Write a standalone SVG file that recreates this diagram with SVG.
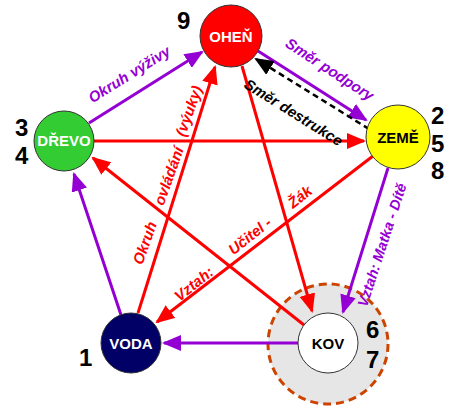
<svg xmlns="http://www.w3.org/2000/svg" width="461" height="408" viewBox="0 0 461 408">
<style>
.node circle{stroke:#333;stroke-width:1}
.node text{font-family:"Liberation Sans",Arial,sans-serif;font-weight:bold;font-size:15px;text-anchor:middle}
.num{font-family:"Liberation Sans",Arial,sans-serif;font-weight:bold;font-size:24px;fill:#000}
.lbl{font-family:"Liberation Sans",Arial,sans-serif;font-weight:bold;font-style:italic;font-size:15px;text-anchor:middle}
.red{stroke:#ff0000;stroke-width:3;fill:none;marker-end:url(#ar)}
.pur{stroke:#9400d3;stroke-width:3;fill:none;marker-end:url(#ap)}
.blk{stroke:#000;stroke-width:2.5;stroke-dasharray:6 4;fill:none;marker-end:url(#ak)}
</style>
<defs>
<marker id="ar" markerUnits="userSpaceOnUse" markerWidth="19" markerHeight="16" refX="17" refY="8" orient="auto"><path d="M0,0 L19,8 L0,16 Z" fill="#ff0000"/></marker>
<marker id="ap" markerUnits="userSpaceOnUse" markerWidth="19" markerHeight="16" refX="17" refY="8" orient="auto"><path d="M0,0 L19,8 L0,16 Z" fill="#9400d3"/></marker>
<marker id="ak" markerUnits="userSpaceOnUse" markerWidth="19" markerHeight="16" refX="17" refY="8" orient="auto"><path d="M0,0 L19,8 L0,16 Z" fill="#000"/></marker>
</defs>
<rect width="461" height="408" fill="#fff"/>
<circle cx="328" cy="344" r="60" fill="#e6e6e6" stroke="#cc4400" stroke-width="3" stroke-dasharray="8 5"/>
<g id="connectors">
<line class="pur" x1="89" y1="123" x2="202" y2="52"/>
<line class="pur" x1="258" y1="51" x2="366" y2="120"/>
<line class="pur" x1="388" y1="168" x2="343" y2="312"/>
<line class="pur" x1="298" y1="343" x2="164" y2="343"/>
<line class="pur" x1="121" y1="315" x2="74" y2="174"/>
<line class="red" x1="94" y1="141" x2="364" y2="141"/>
<line class="red" x1="373" y1="156" x2="157" y2="322"/>
<line class="red" x1="138" y1="313" x2="215" y2="67"/>
<line class="red" x1="242" y1="66" x2="312" y2="311"/>
<line class="red" x1="304" y1="325" x2="93" y2="158"/>
<line class="blk" x1="369" y1="129" x2="256" y2="59"/>
</g>
<g id="labels">
<g transform="translate(131,77) rotate(-32)"><text class="lbl" fill="#9400d3" y="2">Okruh výživy</text></g>
<g transform="translate(328,72) rotate(33)"><text class="lbl" fill="#9400d3" y="2">Směr podpory</text></g>
<g transform="translate(295,110) rotate(32)"><text class="lbl" fill="#000" y="8">Směr destrukce</text></g>
<g fill="#ff0000">
<text class="lbl" transform="translate(145,243) rotate(-70.5)" y="5">Okruh</text>
<text class="lbl" transform="translate(169,176) rotate(-70.5)" y="5">ovládání</text>
<text class="lbl" transform="translate(189,111) rotate(-70.5)" y="5">(výuky)</text>
</g>
<g fill="#ff0000">
<text class="lbl" transform="translate(194,284) rotate(-38.5)" y="5">Vztah:</text>
<text class="lbl" transform="translate(250,236) rotate(-38.5)" y="5">Učitel -</text>
<text class="lbl" transform="translate(300,197) rotate(-38.5)" y="5">Žák</text>
</g>
<g transform="translate(382,245) rotate(-72)"><text class="lbl" fill="#9400d3" y="5" style="font-size:14.5px">Vztah: Matka - Dítě</text></g>
</g>
<g id="ohen" class="node"><circle cx="231" cy="36" r="31" fill="#ff0000"/><text x="231" y="42" fill="#fff">OHEŇ</text></g>
<g id="drevo" class="node"><circle cx="64" cy="141" r="30" fill="#33cc33"/><text x="64" y="146" fill="#fff">DŘEVO</text></g>
<g id="zeme" class="node"><circle cx="398" cy="137" r="32" fill="#ffff00"/><text x="398" y="143" fill="#000">ZEMĚ</text></g>
<g id="voda" class="node"><circle cx="131" cy="343" r="30" fill="#000066"/><text x="131" y="349" fill="#fff">VODA</text></g>
<g id="kov" class="node"><circle cx="328" cy="343" r="30" fill="#fff"/><text x="328" y="349" fill="#000">KOV</text></g>
<g id="numbers">
<text class="num" x="177" y="29">9</text>
<text class="num" x="15" y="136">3</text>
<text class="num" x="15" y="164">4</text>
<text class="num" x="431" y="124">2</text>
<text class="num" x="431" y="152">5</text>
<text class="num" x="431" y="179">8</text>
<text class="num" x="79" y="366">1</text>
<text class="num" x="366" y="338">6</text>
<text class="num" x="366" y="368">7</text>
</g>
</svg>
